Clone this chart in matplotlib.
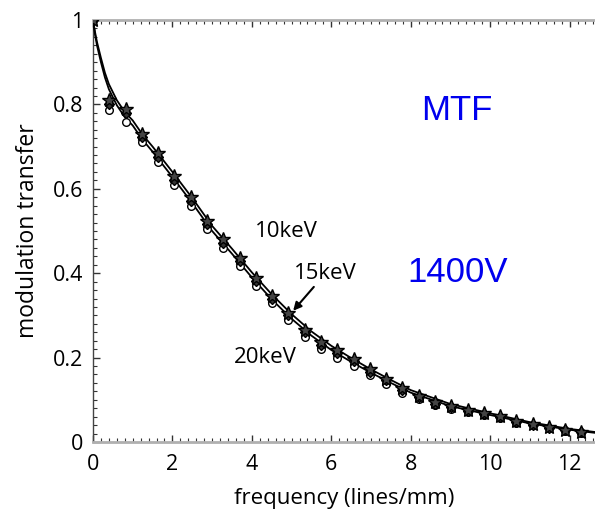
import matplotlib
matplotlib.use("Agg")
import matplotlib.pyplot as plt
from matplotlib.ticker import MultipleLocator

# Measured modulation transfer at the sampled spatial frequencies (lines/mm)
freq = [0.0, 0.41, 0.82, 1.23, 1.64, 2.05, 2.46, 2.87, 3.28, 3.69, 4.10,
        4.51, 4.92, 5.33, 5.74, 6.15, 6.56, 6.97, 7.38, 7.79, 8.20, 8.61,
        9.02, 9.43, 9.84, 10.25, 10.66, 11.07, 11.48, 11.89, 12.30]
mtf_10kev = [1.0, 0.810, 0.790, 0.730, 0.684, 0.630, 0.580, 0.524, 0.480,
             0.437, 0.388, 0.347, 0.306, 0.265, 0.236, 0.219, 0.197, 0.172,
             0.150, 0.127, 0.110, 0.094, 0.086, 0.077, 0.069, 0.062, 0.049,
             0.043, 0.036, 0.029, 0.024]
mtf_15kev = [1.0, 0.800, 0.780, 0.722, 0.676, 0.622, 0.572, 0.516, 0.472,
             0.430, 0.381, 0.340, 0.300, 0.260, 0.230, 0.212, 0.192, 0.167,
             0.146, 0.123, 0.106, 0.091, 0.083, 0.074, 0.067, 0.060, 0.047,
             0.041, 0.034, 0.028, 0.023]
mtf_20kev = [1.0, 0.786, 0.758, 0.712, 0.664, 0.610, 0.560, 0.504, 0.460,
             0.418, 0.370, 0.330, 0.290, 0.250, 0.220, 0.198, 0.180, 0.158,
             0.138, 0.117, 0.101, 0.087, 0.079, 0.071, 0.064, 0.057, 0.045,
             0.040, 0.033, 0.027, 0.022]

# Fitted MTF curves
fit_freq = [0.0, 0.05, 0.1, 0.2, 0.3, 0.4, 0.6, 0.8, 1.0, 1.25, 1.5, 2.0,
            2.5, 3.0, 3.5, 4.0, 4.5, 5.0, 5.5, 6.0, 6.5, 7.0, 7.5, 8.0, 9.0,
            10.0, 11.0, 12.0, 12.7]
fit_upper = [1.0, 0.972, 0.948, 0.910, 0.875, 0.848, 0.810, 0.782, 0.762,
             0.728, 0.700, 0.640, 0.578, 0.512, 0.458, 0.402, 0.350, 0.303,
             0.262, 0.228, 0.199, 0.172, 0.147, 0.123, 0.090, 0.068, 0.047,
             0.031, 0.023]
fit_lower = [1.0, 0.966, 0.940, 0.900, 0.864, 0.836, 0.798, 0.770, 0.750,
             0.716, 0.688, 0.628, 0.566, 0.500, 0.446, 0.390, 0.338, 0.292,
             0.252, 0.218, 0.190, 0.164, 0.140, 0.117, 0.085, 0.064, 0.044,
             0.029, 0.021]

xticks = [0, 2, 4, 6, 8, 10, 12]
yticks = [0, 0.2, 0.4, 0.6, 0.8, 1]
ytick_labels = ["0", "0.2", "0.4", "0.6", "0.8", "1"]

plt.rcParams["font.family"] = ["Open Sans", "DejaVu Sans"]

fig = plt.figure(figsize=(5.95, 5.12), dpi=100)
ax = fig.add_axes([93 / 595, 70 / 512, (595 - 93) / 595, 422 / 512])

ax.plot(fit_freq, fit_upper, color="black", lw=1.3, zorder=3)
ax.plot(fit_freq, fit_lower, color="black", lw=1.3, zorder=3)

ax.plot(freq, mtf_20kev, linestyle="none", marker="o", ms=5.5,
        mfc="white", mec="black", mew=1.0, zorder=4)
ax.plot(freq, mtf_15kev, linestyle="none", marker="D", ms=5.5,
        mfc="#333333", mec="black", mew=1.0, zorder=5)
ax.plot(freq, mtf_10kev, linestyle="none", marker="*", ms=10,
        mfc="#444444", mec="black", mew=1.0, zorder=6)

ax.set_xlim(0, 12.64)
ax.set_ylim(0, 1)
ax.set_xticks(xticks)
ax.set_xticklabels([str(t) for t in xticks])
ax.set_yticks(yticks)
ax.set_yticklabels(ytick_labels)
ax.xaxis.set_minor_locator(MultipleLocator(0.2))
ax.yaxis.set_minor_locator(MultipleLocator(0.02))

ax.tick_params(which="both", direction="in", top=True, bottom=True,
               left=True, right=False, colors="#333333", labelcolor="black")
ax.tick_params(which="major", length=5, width=1, labelsize=15.5)
ax.tick_params(axis="x", which="major", pad=9)
ax.tick_params(axis="y", which="major", pad=7)
ax.tick_params(which="minor", length=3, width=0.8)

for side in ("top", "bottom"):
    ax.spines[side].set_color("#b0b0b0")
    ax.spines[side].set_linewidth(2)
ax.spines["left"].set_color("#444444")
ax.spines["left"].set_linewidth(1)
ax.spines["right"].set_visible(False)

ax.set_xlabel("frequency (lines/mm)", fontsize=16, labelpad=9)
ax.set_ylabel("modulation transfer", fontsize=16.5, labelpad=9)

ax.text(4.86, 0.499, "10keV", fontsize=16, ha="center", va="center")
ax.text(4.35, 0.200, "20keV", fontsize=16, ha="center", va="center")
ax.annotate("15keV", xy=(5.04, 0.311), xytext=(5.85, 0.399),
            fontsize=16, ha="center", va="center",
            arrowprops=dict(arrowstyle="-|>", color="black", lw=1.5,
                            mutation_scale=12, shrinkA=0, shrinkB=0))

ax.text(9.16, 0.786, "MTF", fontsize=25, color="#0000ee",
        family="Liberation Sans", ha="center", va="center")
ax.text(9.19, 0.401, "1400V", fontsize=25, color="#0000ee",
        family="Liberation Sans", ha="center", va="center")

fig.savefig("out.png", dpi=100)
